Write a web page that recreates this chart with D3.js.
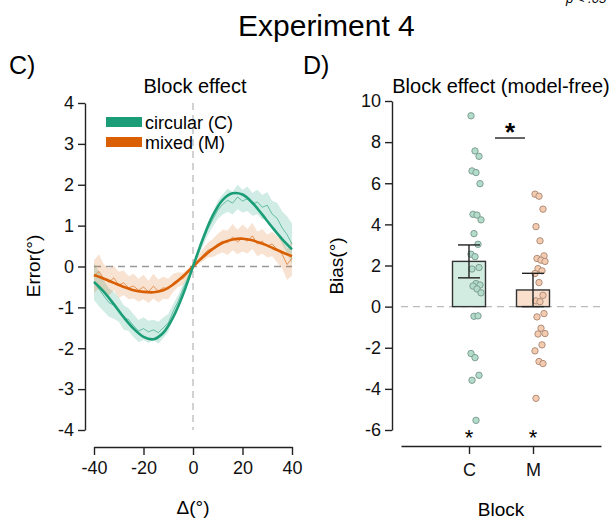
<!DOCTYPE html>
<html>
<head>
<meta charset="utf-8">
<script src="https://cdn.jsdelivr.net/npm/d3@7"></script>
<style>
  body { margin:0; background:#fff; }
  svg { display:block; font-family:"Liberation Sans", Arial, Helvetica, sans-serif; }
  .axis path, .axis line { stroke:#222; stroke-width:1.4; }
  .axis text { font-size:18px; fill:#111; font-family:"Liberation Sans", Arial, sans-serif; }
</style>
</head>
<body>
<div id="chart"></div>
<script>
// ---- panel C data: error vs delta ----
var deltaRaw = d3.range(-40, 41, 2);
var deltaFit = d3.range(-40, 41, 4);

var greenFit  = [-0.38,-0.62,-0.92,-1.24,-1.52,-1.72,-1.78,-1.62,-1.24,-0.68,0,0.68,1.25,1.63,1.79,1.76,1.56,1.27,0.96,0.67,0.42];
var orangeFit = [-0.21,-0.30,-0.40,-0.50,-0.58,-0.62,-0.63,-0.58,-0.44,-0.24,0,0.23,0.43,0.58,0.66,0.68,0.64,0.56,0.46,0.35,0.25];

var greenRaw = [-0.37,-0.55,-0.72,-0.88,-0.95,-1.05,-1.25,-1.30,-1.45,-1.58,-1.52,-1.60,-1.55,-1.62,-1.50,-1.38,-1.10,-0.85,-0.55,-0.28,
                0,0.30,0.62,0.92,1.15,1.38,1.52,1.62,1.55,1.70,1.60,1.66,1.52,1.58,1.45,1.50,1.28,1.18,0.95,0.78,0.55];
var greenErr = [0.45,0.42,0.38,0.35,0.33,0.30,0.30,0.28,0.28,0.27,0.28,0.27,0.25,0.27,0.25,0.22,0.18,0.15,0.12,0.08,
                0.05,0.08,0.12,0.15,0.18,0.22,0.25,0.28,0.28,0.30,0.28,0.30,0.28,0.30,0.30,0.32,0.33,0.38,0.40,0.45,0.50];

var orangeRaw = [-0.25,-0.12,-0.30,-0.38,-0.28,-0.45,-0.40,-0.52,-0.48,-0.58,-0.50,-0.62,-0.48,-0.60,-0.52,-0.55,-0.40,-0.32,-0.30,-0.15,
                 0,0.15,0.28,0.40,0.45,0.55,0.62,0.58,0.72,0.60,0.70,0.62,0.75,0.55,0.62,0.50,0.55,0.42,0.30,0.05,0.20];
var orangeErr = [0.40,0.42,0.35,0.33,0.30,0.32,0.30,0.28,0.30,0.28,0.30,0.27,0.30,0.28,0.27,0.25,0.22,0.18,0.15,0.10,
                 0.06,0.10,0.15,0.18,0.22,0.25,0.28,0.30,0.32,0.30,0.33,0.30,0.32,0.30,0.30,0.28,0.30,0.32,0.35,0.38,0.42];

var legendLabels = ["circular (C)", "mixed (M)"];
var errTicks = [-4,-3,-2,-1,0,1,2,3,4];
var deltaTicks = [-40,-20,0,20,40];

// ---- panel D data: bias per block ----
var blocks = ["C","M"];
var biasMean = [2.2, 0.81];
var biasSE = [0.8, 0.81];
var biasC = [9.28,7.57,7.31,6.6,6.52,5.98,4.49,4.45,4.22,3.55,3.03,2.55,2.43,1.9,1.83,1.12,1.05,1.0,0.86,0.67,
             -0.47,-0.45,-2.28,-2.48,-3.34,-3.58,-5.53];
var biasM = [5.47,5.37,4.74,3.89,3.2,2.47,2.34,2.26,2.2,1.85,1.74,1.61,1.17,0.55,0.28,0.24,
             -0.34,-0.5,-1.05,-1.31,-1.33,-1.86,-2.15,-2.67,-2.77,-4.46];
var biasTicks = [-6,-4,-2,0,2,4,6,8,10];

var green = "#1b9e77", orange = "#d95f02";

var width = 613, height = 519;
var svg = d3.select("#chart").append("svg").attr("width", width).attr("height", height);

// headings
svg.append("text").attr("x", 238).attr("y", 36)
   .attr("font-size", 30).text("Experiment 4");
svg.append("text").attr("x", 566).attr("y", 3).attr("font-size", 13)
   .attr("font-style","italic").text("p < .05");
svg.append("text").attr("x", 9).attr("y", 74).attr("font-size", 25).text("C)");
svg.append("text").attr("x", 303).attr("y", 74).attr("font-size", 25).text("D)");

//////// panel C
var xL = d3.scaleLinear().domain([-40,40]).range([94,292]);
var yL = d3.scaleLinear().domain([-4,4]).range([430,103]);

svg.append("text").attr("x", 195).attr("y", 93).attr("text-anchor","middle")
   .attr("font-size", 20).text("Block effect");

// reference lines
svg.append("line").attr("x1", xL(-40)).attr("x2", xL(40)).attr("y1", yL(0)).attr("y2", yL(0))
   .attr("stroke","#999").attr("stroke-width",1.3).attr("stroke-dasharray","7,5");
svg.append("line").attr("x1", xL(0)).attr("x2", xL(0)).attr("y1", yL(4)).attr("y2", yL(-4))
   .attr("stroke","#bbb").attr("stroke-width",1.3).attr("stroke-dasharray","7,5");

function band(raw, err){
    return d3.area()
        .x(function(d,i){ return xL(deltaRaw[i]); })
        .y0(function(d,i){ return yL(raw[i]-err[i]); })
        .y1(function(d,i){ return yL(raw[i]+err[i]); })(raw);
}
function rawPath(raw){
    return d3.line().x(function(d,i){ return xL(deltaRaw[i]); }).y(function(d){ return yL(d); })(raw);
}
function fitPath(fit){
    return d3.line().curve(d3.curveCatmullRom)
        .x(function(d,i){ return xL(deltaFit[i]); }).y(function(d){ return yL(d); })(fit);
}

svg.append("path").attr("d", band(greenRaw, greenErr)).attr("fill", green).attr("fill-opacity", 0.2);
svg.append("path").attr("d", band(orangeRaw, orangeErr)).attr("fill", orange).attr("fill-opacity", 0.18);
svg.append("path").attr("d", rawPath(greenRaw)).attr("fill","none").attr("stroke", green)
   .attr("stroke-opacity",0.6).attr("stroke-width",1);
svg.append("path").attr("d", rawPath(orangeRaw)).attr("fill","none").attr("stroke", orange)
   .attr("stroke-opacity",0.6).attr("stroke-width",1);
svg.append("path").attr("d", fitPath(orangeFit)).attr("fill","none").attr("stroke", orange).attr("stroke-width",2.6);
svg.append("path").attr("d", fitPath(greenFit)).attr("fill","none").attr("stroke", green).attr("stroke-width",2.6);

// legend
legendLabels.forEach(function(lab, i){
    var c = i==0 ? green : orange;
    svg.append("rect").attr("x",106).attr("y",117+i*20).attr("width",36).attr("height",10).attr("fill",c);
    svg.append("text").attr("x",145).attr("y",129+i*20).attr("font-size",18).text(lab);
});

svg.append("g").attr("class","axis").attr("transform","translate(85,0)")
   .call(d3.axisLeft(yL).tickValues(errTicks).tickSize(7).tickSizeOuter(0).tickPadding(4).tickFormat(String));
svg.append("g").attr("class","axis").attr("transform","translate(0,447)")
   .call(d3.axisBottom(xL).tickValues(deltaTicks).tickSize(8).tickSizeOuter(0).tickPadding(6).tickFormat(String));

svg.append("text").attr("transform","translate(40,266) rotate(-90)").attr("text-anchor","middle")
   .attr("font-size",19).text("Error(°)");
svg.append("text").attr("x",193).attr("y",514).attr("text-anchor","middle")
   .attr("font-size",19).text("Δ(°)");

//////// panel D
var xR = d3.scalePoint().domain(blocks).range([401,601]).padding(1.0625);
var yR = d3.scaleLinear().domain([-6,10]).range([430,101]);
var barW = 33;

svg.append("text").attr("x", 501).attr("y", 93).attr("text-anchor","middle")
   .attr("font-size", 20).text("Block effect (model-free)");

svg.append("line").attr("x1",401).attr("x2",601).attr("y1",yR(0)).attr("y2",yR(0))
   .attr("stroke","#bbb").attr("stroke-width",1.3).attr("stroke-dasharray","7,5");

var barFill = ["#d3ece2","#fbdfcd"];
var dotFill = ["#b3dccb","#f5cbb0"];
var dotStroke = ["#7f9f94","#b08f7c"];

blocks.forEach(function(b, k){
    var cx = xR(b);
    svg.append("rect").attr("x", cx-barW/2).attr("width", barW)
       .attr("y", yR(biasMean[k])).attr("height", yR(0)-yR(biasMean[k]))
       .attr("fill", barFill[k]).attr("stroke","#333").attr("stroke-width",1.4);
    var vals = k==0 ? biasC : biasM;
    svg.selectAll(null).data(vals).enter().append("circle")
       .attr("cx", function(d,i){ return cx + 7 + ((i*37)%11 - 5); })
       .attr("cy", function(d){ return yR(d); })
       .attr("r", 3.2)
       .attr("fill", dotFill[k]).attr("stroke", dotStroke[k]).attr("stroke-width",1);
    var lo = biasMean[k]-biasSE[k], hi = biasMean[k]+biasSE[k];
    svg.append("line").attr("x1",cx).attr("x2",cx).attr("y1",yR(lo)).attr("y2",yR(hi))
       .attr("stroke","#222").attr("stroke-width",1.4);
    [lo,hi].forEach(function(v){
        svg.append("line").attr("x1",cx-11).attr("x2",cx+11).attr("y1",yR(v)).attr("y2",yR(v))
           .attr("stroke","#222").attr("stroke-width",1.4);
    });
    svg.append("text").attr("x",cx).attr("y",yR(-6)+15).attr("text-anchor","middle")
       .attr("font-size",22).text("*");
});

// significance bracket
var midCM = (xR("C")+xR("M"))/2 + 9;
svg.append("line").attr("x1",midCM-15).attr("x2",midCM+15).attr("y1",yR(8.2)).attr("y2",yR(8.2))
   .attr("stroke","#222").attr("stroke-width",1.4);
svg.append("text").attr("x",midCM).attr("y",yR(8.2)+3).attr("text-anchor","middle")
   .attr("font-size",26).attr("font-weight","bold").text("*");

svg.append("g").attr("class","axis").attr("transform","translate(392,0)")
   .call(d3.axisLeft(yR).tickValues(biasTicks).tickSize(7).tickSizeOuter(0).tickPadding(4).tickFormat(String));
svg.append("g").attr("class","axis").attr("transform","translate(0,446)")
   .call(d3.axisBottom(xR).tickSize(8).tickSizeOuter(0).tickPadding(9));

svg.append("text").attr("transform","translate(343,266) rotate(-90)").attr("text-anchor","middle")
   .attr("font-size",19).text("Bias(°)");
svg.append("text").attr("x",501).attr("y",516).attr("text-anchor","middle")
   .attr("font-size",19).text("Block");
</script>
</body>
</html>
